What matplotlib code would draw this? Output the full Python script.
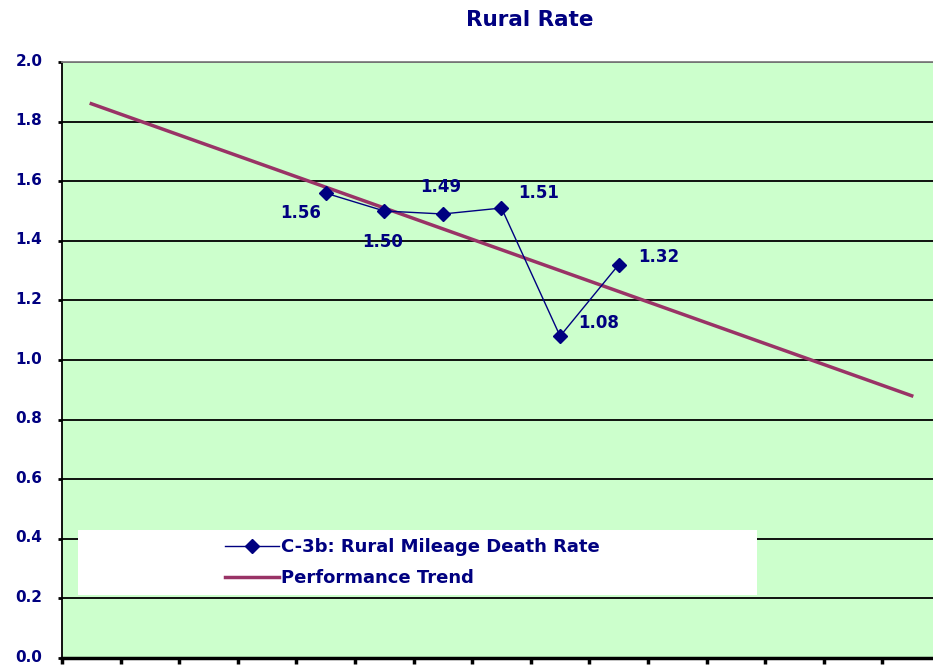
import matplotlib
matplotlib.use("Agg")
import matplotlib.pyplot as plt
import matplotlib.transforms as mtrans
from matplotlib.patches import Rectangle

# Data
n_categories = 16
rate_x = [4, 5, 6, 7, 8, 9]
rate_values = [1.56, 1.50, 1.49, 1.51, 1.08, 1.32]
rate_labels = ["1.56", "1.50", "1.49", "1.51", "1.08", "1.32"]
trend_x = list(range(15))
trend_values = [1.86, 1.79, 1.72, 1.65, 1.58, 1.51, 1.44, 1.37, 1.30,
                1.23, 1.16, 1.09, 1.02, 0.95, 0.88]
yticks = [0.0, 0.2, 0.4, 0.6, 0.8, 1.0, 1.2, 1.4, 1.6, 1.8, 2.0]
title = "Rural Rate"
series_names = ["C-3b: Rural Mileage Death Rate", "Performance Trend"]

navy = "#000080"
trend_col = "#993366"

W, H = 933, 665
fig = plt.figure(figsize=(W / 100, H / 100), dpi=100)
left, right, top, bottom = 62, 999.6, 62, 658
ax = fig.add_axes([left / W, 1 - bottom / H, (right - left) / W, (bottom - top) / H])
ax.set_facecolor("#CCFFCC")

ax.set_xlim(-0.5, n_categories - 0.5)
ax.set_ylim(0, 2.0)
ax.set_yticks(yticks)
ax.set_yticklabels([f"{v:.1f}" for v in yticks])
ax.set_xticks([i - 0.5 for i in range(n_categories + 1)])
ax.set_xticklabels([])
ax.grid(axis="y", color="black", linewidth=1.3, zorder=1)
ax.set_axisbelow(True)

for s in ["left", "bottom"]:
    ax.spines[s].set_color("black")
ax.spines["left"].set_linewidth(1.3)
ax.spines["bottom"].set_linewidth(2.5)
ax.spines["top"].set_color("#808080")
ax.spines["top"].set_linewidth(1.3)
ax.spines["right"].set_visible(False)

ax.tick_params(axis="y", direction="out", length=3, width=2, color="black",
               labelcolor=navy, labelsize=11, pad=11)
ax.tick_params(axis="x", direction="out", length=4, width=2.5, color="black")
shift = mtrans.ScaledTranslation(0, 2.5 / 100, fig.dpi_scale_trans)
for lab in ax.get_yticklabels():
    lab.set_fontweight("heavy")
    lab.set_transform(lab.get_transform() + shift)

# legend background box
lx0 = (78 - left) / (right - left)
lx1 = (757 - left) / (right - left)
ly0 = (bottom - 595) / (bottom - top)
ly1 = (bottom - 530) / (bottom - top)
ax.add_patch(Rectangle((lx0, ly0), lx1 - lx0, ly1 - ly0, transform=ax.transAxes,
                       facecolor="white", edgecolor="none", zorder=2))

l1, = ax.plot(rate_x, rate_values, color=navy, linewidth=1.0, marker="D",
              markersize=7.5, markerfacecolor=navy, markeredgecolor=navy,
              zorder=4, label=series_names[0])
l2, = ax.plot(trend_x, trend_values, color=trend_col, linewidth=2.5, zorder=3,
              label=series_names[1])

offsets = [(-18, -14), (-1.5, -22), (-1.5, 19.5), (26.6, 10.8), (28, 9.4), (28.8, 5.8)]
for x, v, t, off in zip(rate_x, rate_values, rate_labels, offsets):
    ax.annotate(t, (x, v), xytext=off, textcoords="offset points", ha="center",
                va="center", color=navy, fontsize=12, fontweight="bold", zorder=5)

leg = ax.legend(handles=[l1, l2], loc="upper left",
                bbox_to_anchor=((218 - left) / (right - left), (bottom - 531) / (bottom - top)),
                frameon=False, handlelength=3.0, handletextpad=0.1, labelspacing=0.7,
                prop={"weight": "bold", "size": 13}, borderaxespad=0)
for txt in leg.get_texts():
    txt.set_color(navy)
leg.set_zorder(6)

fig.text(530 / W, 1 - 20 / H, title, ha="center", va="center", color=navy,
         fontsize=15.5, fontweight="heavy")

fig.savefig("out.png", dpi=100)
